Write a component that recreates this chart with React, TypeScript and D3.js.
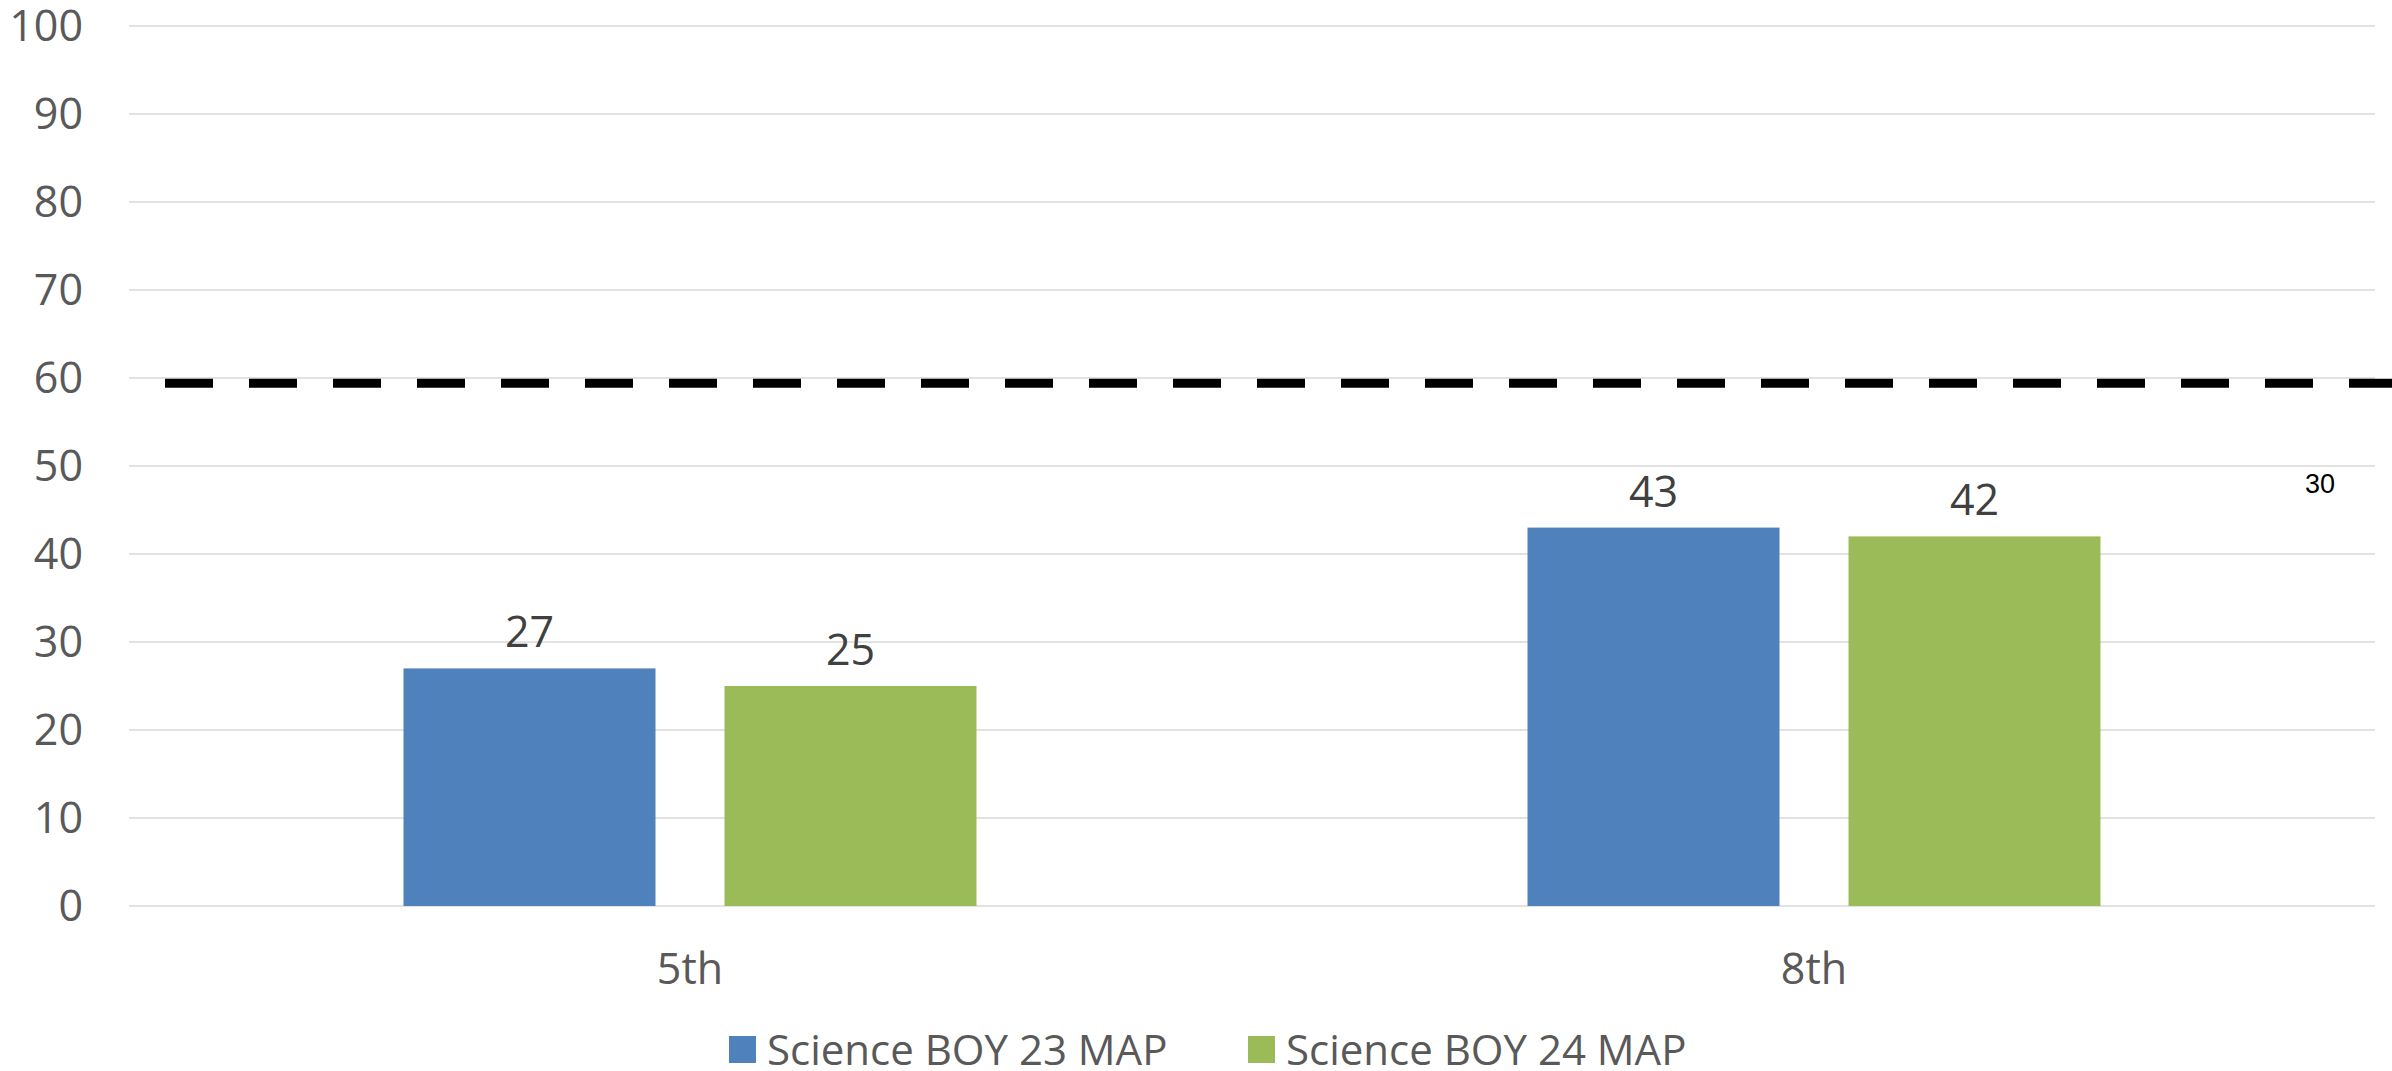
import React from "react";
import * as d3 from "d3";

const categories = ["5th", "8th"];
const seriesNames = ["Science BOY 23 MAP", "Science BOY 24 MAP"];
const seriesColors = ["#4F81BD", "#9BBB59"];
const boy23 = [27, 43];
const boy24 = [25, 42];
const yTicks = [0, 10, 20, 30, 40, 50, 60, 70, 80, 90, 100];
const benchmark = [59.4];
const stray = ["30"];

const W = 2392;
const H = 1071;
const FONT = "'Open Sans', 'Noto Sans', sans-serif";

export default function App() {
  const x0 = d3.scaleBand<string>().domain(categories).range([128, 2376]).paddingInner(0).paddingOuter(0);
  const y = d3.scaleLinear().domain([0, 100]).range([906, 26]);
  const groupFrac = 573 / 1124;
  const gw = x0.bandwidth() * groupFrac;
  const x1 = d3.scaleBand<number>().domain([0, 1]).range([0, gw]).paddingInner(0.215).paddingOuter(0);
  const values = [boy23, boy24];

  return (
    <svg width={W} height={H} style={{ position: "absolute", left: 0, top: 0, background: "#fff" }} fontFamily={FONT}>
      <rect x={0} y={0} width={W} height={H} fill="#fff" />
      {yTicks.map((t) => (
        <g key={t}>
          <line x1={129} x2={2375} y1={y(t)} y2={y(t)} stroke="#d9d9d9" strokeWidth={1.5} />
          <text x={83} y={y(t)} dy="0.36em" textAnchor="end" fontSize={43} fill="#595959">
            {t}
          </text>
        </g>
      ))}
      {categories.map((c, ci) => {
        const gx = (x0(c) as number) + (x0.bandwidth() - gw) / 2;
        return (
          <g key={c}>
            {values.map((vals, si) => {
              const v = vals[ci];
              const bx = gx + (x1(si) as number);
              return (
                <g key={si}>
                  <rect x={bx} y={y(v)} width={x1.bandwidth()} height={y(0) - y(v)} fill={seriesColors[si]} />
                  <text x={bx + x1.bandwidth() / 2} y={y(v) - 21} textAnchor="middle" fontSize={43} fill="#404040">
                    {v}
                  </text>
                </g>
              );
            })}
            <text x={(x0(c) as number) + x0.bandwidth() / 2} y={984} textAnchor="middle" fontSize={43} fill="#595959">
              {c}
            </text>
          </g>
        );
      })}
      {benchmark.map((b, i) => (
        <line key={i} x1={165} x2={W} y1={y(b)} y2={y(b)} stroke="#000" strokeWidth={9} strokeDasharray="48 36" />
      ))}
      <text x={2320} y={493} textAnchor="middle" fontSize={27} fill="#000" fontFamily="'Liberation Sans', Arial, sans-serif">
        {stray[0]}
      </text>
      {seriesNames.map((s, i) => {
        const lx = [729, 1248][i];
        return (
          <g key={s}>
            <rect x={lx} y={1036} width={27} height={27} fill={seriesColors[i]} />
            <text x={lx + 38} y={1050} dy="0.36em" fontSize={42} fill="#595959">
              {s}
            </text>
          </g>
        );
      })}
    </svg>
  );
}
